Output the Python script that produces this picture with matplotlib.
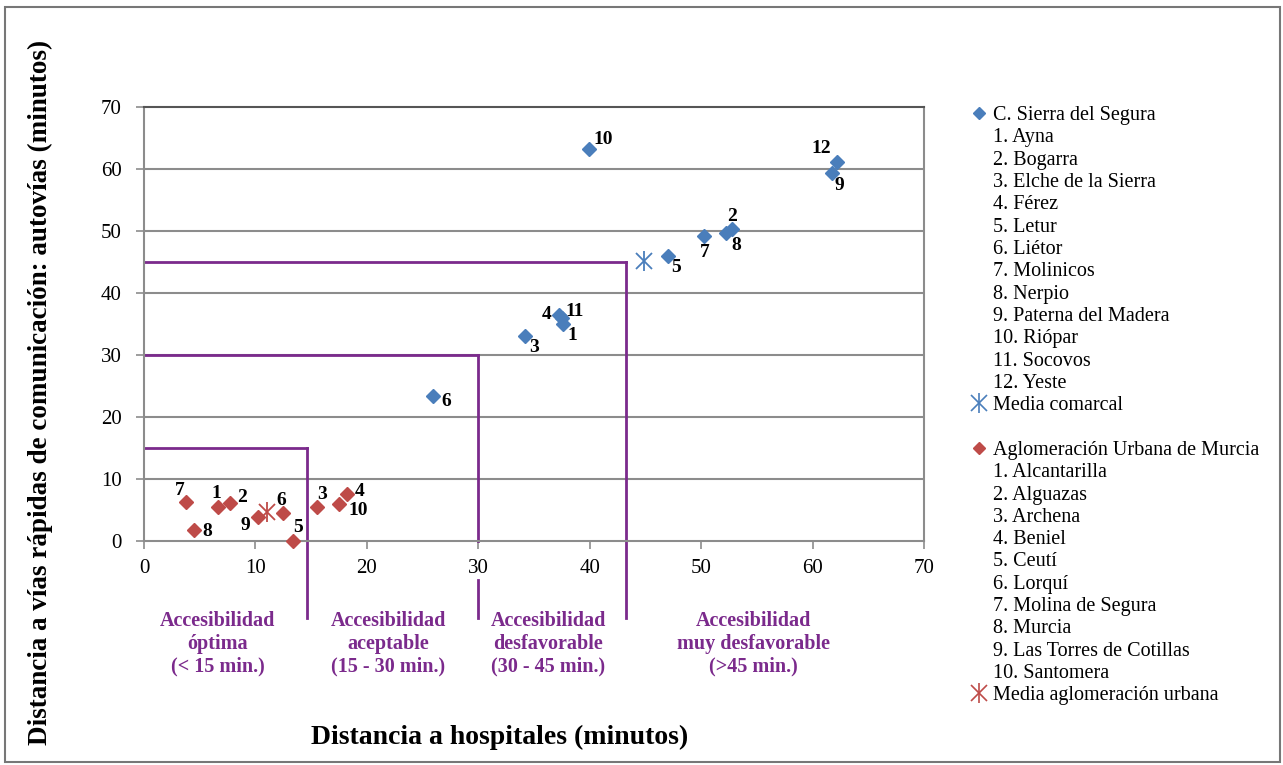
import matplotlib
matplotlib.use('Agg')
from matplotlib import pyplot as plt
from matplotlib.lines import Line2D
from matplotlib.patches import Rectangle

# C. Sierra del Segura (hospital time, motorway time)
sierra_x = [37.6, 52.8, 34.2, 37.2, 47.0, 25.9, 50.3, 52.2, 61.7, 39.9, 37.5, 62.2]
sierra_y = [35.0, 50.3, 33.1, 36.5, 46.0, 23.4, 49.2, 49.6, 59.3, 63.2, 35.9, 61.2]
sierra_names = ['Ayna', 'Bogarra', 'Elche de la Sierra', 'Férez', 'Letur', 'Liétor',
                'Molinicos', 'Nerpio', 'Paterna del Madera', 'Riópar', 'Socovos', 'Yeste']
sierra_mean = (44.9, 45.2)

# Aglomeracion Urbana de Murcia
murcia_x = [6.6, 7.7, 15.5, 18.2, 13.4, 12.5, 3.8, 4.5, 10.2, 17.5]
murcia_y = [5.5, 6.1, 5.5, 7.6, 0.0, 4.5, 6.3, 1.8, 3.9, 5.9]
murcia_names = ['Alcantarilla', 'Alguazas', 'Archena', 'Beniel', 'Ceutí', 'Lorquí',
                'Molina de Segura', 'Murcia', 'Las Torres de Cotillas', 'Santomera']
murcia_mean = (11.0, 4.7)

# accessibility thresholds (x limit, y limit)
zone_x = [14.6, 30, 43.3]
zone_y = [15, 30, 45]
zone_labels = ['Accesibilidad\nóptima\n(< 15 min.)',
               'Accesibilidad\naceptable\n(15 - 30 min.)',
               'Accesibilidad\ndesfavorable\n(30 - 45 min.)',
               'Accesibilidad\nmuy desfavorable\n(>45 min.)']
zone_label_x = [6.6, 21.9, 36.3, 54.7]

# label offsets in pixels (dx, dy)
sierra_off = [(9, -12), (0, 13), (9, -12), (-12, 0), (8, -12), (14, -6),
              (0, -17), (11, -12), (8, -12), (15, 10), (13, 7), (-16, 13)]
murcia_off = [(-1, 13), (12, 6), (5, 12), (13, 2), (5, 14), (-2, 13),
              (-7, 11), (13, -2), (-12, -9), (19, -6)]

blue = '#4a7ebb'
red = '#be4b48'
purple = '#7b2a8c'
grid_gray = '#8c8c8c'
serif = 'Liberation Serif'

plt.rcParams['font.family'] = serif

fig = plt.figure(figsize=(12.83, 7.65), dpi=100)
ax = fig.add_axes([144/1283, 1-541/765, (924-144)/1283, (541-107)/765])

ax.set_xlim(0, 70)
ax.set_ylim(0, 70)
ax.set_xticks(range(0, 71, 10))
ax.set_yticks(range(0, 71, 10))
ax.tick_params(axis='both', labelsize=15, direction='out', length=6, color=grid_gray, width=1.2)
ax.tick_params(axis='x', pad=7)
ax.tick_params(axis='y', pad=10)
for y in range(10, 70, 10):
    ax.axhline(y, color=grid_gray, lw=1.5, zorder=1)
for side in ['left', 'right', 'bottom']:
    ax.spines[side].set_color(grid_gray)
    ax.spines[side].set_linewidth(1.5)
ax.spines['top'].set_color('#555555')
ax.spines['top'].set_linewidth(1.5)

# zone boundaries
bottom_end = -12.4
for i, (zx, zy) in enumerate(zip(zone_x, zone_y)):
    ax.plot([0, zx], [zy, zy], color=purple, lw=2, zorder=2, clip_on=False)
    if zx == 30:
        ax.plot([zx, zx], [zy, 0], color=purple, lw=2, zorder=2, clip_on=False)
        ax.plot([zx, zx], [-6.3, bottom_end], color=purple, lw=2, zorder=2, clip_on=False)
    else:
        ax.plot([zx, zx], [zy, bottom_end], color=purple, lw=2, zorder=2, clip_on=False)
for lx, txt in zip(zone_label_x, zone_labels):
    ax.text(lx, -11.3, txt, ha='center', va='top', color=purple, fontsize=14.5,
            fontweight='bold', linespacing=1.17, clip_on=False)

# points
ax.plot(sierra_x, sierra_y, 'D', color=blue, mec=blue, ms=7.5, zorder=4, clip_on=False)
ax.plot(murcia_x, murcia_y, 'D', color=red, mec=red, ms=7.5, zorder=4, clip_on=False)
ax.plot(*sierra_mean, 'x', color=blue, ms=11, mew=1.3, zorder=4)
ax.plot(*sierra_mean, '|', color=blue, ms=14, mew=1.3, zorder=4)
ax.plot(*murcia_mean, 'x', color=red, ms=11, mew=1.3, zorder=4)
ax.plot(*murcia_mean, '|', color=red, ms=14, mew=1.3, zorder=4)

for i, (x, y) in enumerate(zip(sierra_x, sierra_y)):
    ax.annotate(str(i + 1), (x, y), xytext=sierra_off[i], textcoords='offset pixels',
                ha='center', va='center', fontsize=14, fontweight='bold')
for i, (x, y) in enumerate(zip(murcia_x, murcia_y)):
    ax.annotate(str(i + 1), (x, y), xytext=murcia_off[i], textcoords='offset pixels',
                ha='center', va='center', fontsize=14, fontweight='bold')

# legend
empty = Line2D([], [], linestyle='none', marker='')
handles = [Line2D([], [], linestyle='none', marker='D', color=blue, ms=6)]
labels = ['C. Sierra del Segura']
for i, n in enumerate(sierra_names):
    handles.append(empty)
    labels.append('%d. %s' % (i + 1, n))
handles.append((Line2D([], [], linestyle='none', marker='x', color=blue, ms=11, mew=1.2),
                Line2D([], [], linestyle='none', marker='|', color=blue, ms=14, mew=1.2)))
labels.append('Media comarcal')
handles.append(empty)
labels.append(' ')
handles.append(Line2D([], [], linestyle='none', marker='D', color=red, ms=6))
labels.append('Aglomeración Urbana de Murcia')
for i, n in enumerate(murcia_names):
    handles.append(empty)
    labels.append('%d. %s' % (i + 1, n))
handles.append((Line2D([], [], linestyle='none', marker='x', color=red, ms=11, mew=1.2),
                Line2D([], [], linestyle='none', marker='|', color=red, ms=14, mew=1.2)))
labels.append('Media aglomeración urbana')

fig.legend(handles, labels, loc='upper left', bbox_to_anchor=(971/1283, 1-106/765),
           frameon=False, fontsize=14.5, labelspacing=0.16, handlelength=0.8,
           handletextpad=0.3, borderpad=0, borderaxespad=0)

fig.text(500/1283, 1-737/765, 'Distancia a hospitales (minutos)', ha='center', va='center',
         fontsize=20, fontweight='bold')
fig.text(40/1283, 1-392/765, 'Distancia a vías rápidas de comunicación: autovías (minutos)',
         ha='center', va='center', rotation=90, fontsize=19.5, fontweight='bold')

fig.add_artist(Rectangle((5/1283, 3/765), 1275/1283, 755/765, transform=fig.transFigure,
                         fill=False, edgecolor='#777777', lw=1.5))

fig.savefig('out.png', dpi=100)
